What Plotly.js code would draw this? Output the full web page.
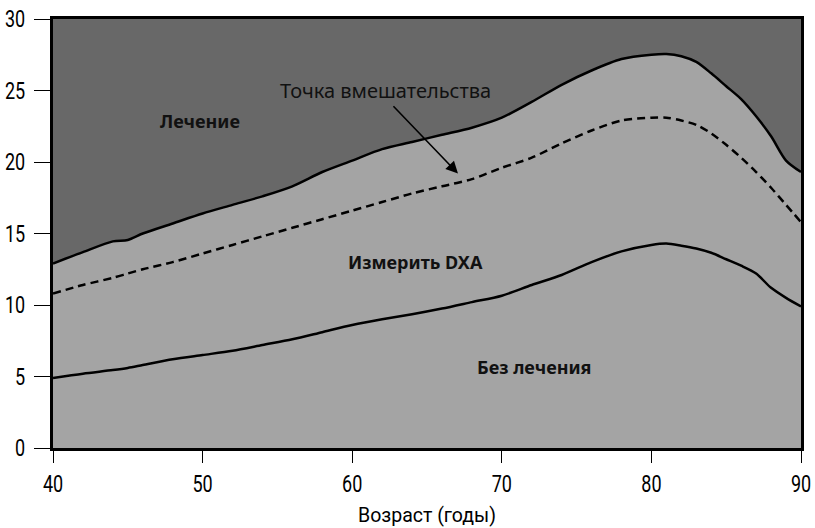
<!DOCTYPE html>
<html><head><meta charset="utf-8">
<script src="https://cdn.plot.ly/plotly-3.0.1.min.js"></script>
<style>html,body{margin:0;padding:0;background:#fff;}#chart{width:815px;height:528px;}</style>
</head><body><div id="chart"></div>
<script>
const ages = [40,42,44,45,46,48,50,52,54,56,58,60,62,64,66,68,70,72,74,76,78,80,81,82,83,84,85,86,87,88,89,90];
const treatThreshold = [12.9,13.7,14.45,14.55,15.0,15.7,16.4,17.0,17.6,18.3,19.3,20.1,20.9,21.4,21.9,22.4,23.1,24.2,25.4,26.4,27.2,27.5,27.55,27.4,27.0,26.2,25.3,24.4,23.2,21.8,20.1,19.3];
const interventionPoint = [10.8,11.4,11.9,12.2,12.5,13.0,13.6,14.2,14.8,15.4,16.0,16.6,17.2,17.8,18.3,18.8,19.6,20.3,21.3,22.2,22.9,23.1,23.1,22.9,22.6,22.0,21.2,20.3,19.3,18.2,17.0,15.8];
const noTreatThreshold = [4.9,5.2,5.45,5.6,5.8,6.2,6.5,6.8,7.2,7.6,8.1,8.6,9.0,9.35,9.75,10.2,10.65,11.4,12.1,13.0,13.75,14.2,14.3,14.15,13.95,13.65,13.2,12.75,12.2,11.2,10.5,9.9];
const xTicks = [40,50,60,70,80,90];
const yTicks = [0,5,10,15,20,25,30];

const axisFont = "Roboto, 'Liberation Sans', sans-serif";
const labelFont = "'Noto Sans', 'Open Sans', sans-serif";

const traces = [
  {x: ages, y: treatThreshold, type:'scatter', mode:'lines', fill:'tozeroy', fillcolor:'#a4a4a4',
   line:{color:'#000', width:2.5, shape:'spline', smoothing:0.8}, hoverinfo:'skip'},
  {x: ages, y: interventionPoint, type:'scatter', mode:'lines',
   line:{color:'#000', width:2.5, dash:'8px,5px', shape:'spline', smoothing:0.8}, hoverinfo:'skip'},
  {x: ages, y: noTreatThreshold, type:'scatter', mode:'lines',
   line:{color:'#000', width:2.5, shape:'spline', smoothing:0.8}, hoverinfo:'skip'}
];

const layout = {
  width:815, height:528,
  margin:{l:53, r:14, t:19, b:80},
  paper_bgcolor:'#fff', plot_bgcolor:'#686868',
  showlegend:false,
  xaxis:{range:[40,90], tickvals:xTicks, ticks:'outside', ticklen:12, tickwidth:1, tickcolor:'#000',
    showgrid:false, zeroline:false, showline:true, linewidth:3, linecolor:'#000', mirror:true,
    tickfont:{family:axisFont, size:24, color:'#000'}, ticklabelstandoff:0,
    title:{text:'Возраст (годы)', font:{family:axisFont, size:20, color:'#000'}, standoff:12}},
  yaxis:{range:[0,30], tickvals:yTicks, ticks:'outside', ticklen:16, tickwidth:1, tickcolor:'#000',
    showgrid:false, zeroline:false, showline:true, linewidth:3, linecolor:'#000', mirror:true,
    tickfont:{family:axisFont, size:24, color:'#000'}, ticklabelstandoff:4},
  annotations:[
    {x:49.8, y:22.9, xref:'x', yref:'y', text:'<b>Лечение</b>', showarrow:false, font:{family:labelFont, size:18, color:'#111'}},
    {x:64.2, y:13.0, xref:'x', yref:'y', text:'<b>Измерить DXA</b>', showarrow:false, font:{family:labelFont, size:18, color:'#111'}},
    {x:72.2, y:5.65, xref:'x', yref:'y', text:'<b>Без лечения</b>', showarrow:false, font:{family:labelFont, size:18, color:'#111'}},
    {x:62.2, y:25.0, xref:'x', yref:'y', text:'Точка вмешательства', showarrow:false, font:{family:labelFont, size:20, color:'#111'}},
    {x:67.07, y:19.2, ax:62.66, ay:24.0, xref:'x', yref:'y', axref:'x', ayref:'y', text:'', showarrow:true,
     arrowhead:2, arrowsize:1.5, arrowwidth:1.6, arrowcolor:'#000'}
  ]
};

function condense(sel, factor, fixed) {
  document.querySelectorAll(sel).forEach(function(t){
    const w = t.getComputedTextLength();
    if (!w) return;
    t.setAttribute('textLength', fixed ? fixed : (w * factor).toFixed(2));
    t.setAttribute('lengthAdjust', 'spacingAndGlyphs');
  });
}

Plotly.newPlot('chart', traces, layout, {staticPlot:true, displayModeBar:false}).then(function(){
  condense('#chart .xtick text, #chart .ytick text', 0.75);
  condense('#chart .g-xtitle text', 1, 138);
});
</script></body></html>
